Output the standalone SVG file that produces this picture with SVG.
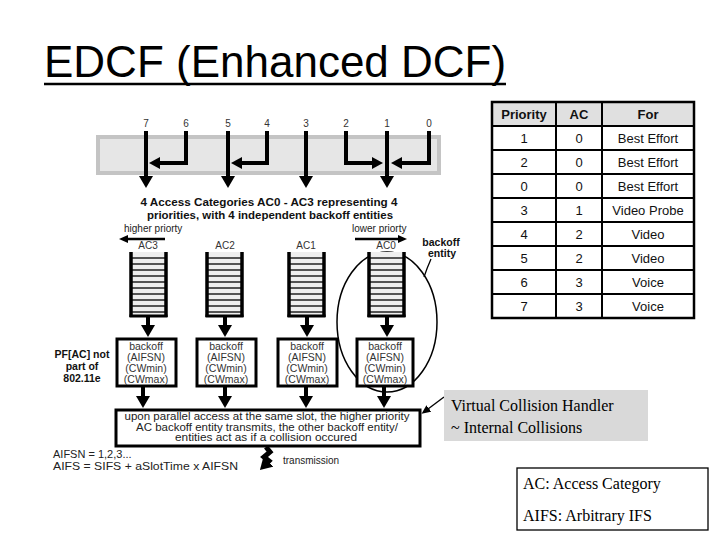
<svg xmlns="http://www.w3.org/2000/svg" xmlns:xlink="http://www.w3.org/1999/xlink" width="720" height="540" viewBox="0 0 720 540">
<style>
  text { font-family: "Liberation Sans", Arial, sans-serif; }
  .title { font-size: 44px; fill: #000; }
  .num { font-size: 10px; fill: #333; text-anchor: middle; }
  .small { font-size: 10px; fill: #222; }
  .note { font-size: 11px; fill: #222; }
  .bold { font-size: 10.5px; font-weight: bold; fill: #111; text-anchor: middle; }
  .bo { font-size: 10.5px; fill: #333; text-anchor: middle; }
  .coll { font-size: 10px; fill: #222; text-anchor: middle; }
  .tbl { font-size: 13px; fill: #111; text-anchor: middle; }
  .th { font-size: 13px; font-weight: bold; fill: #111; text-anchor: middle; }
  .serif { font-family: "Liberation Serif", "Times New Roman", serif; font-size: 16px; fill: #000; }
  .thick { stroke: #000; stroke-width: 4; fill: none; }
  .med { stroke: #000; stroke-width: 2.5; fill: none; }
  .thin { stroke: #000; stroke-width: 1.3; fill: none; }
  .box { fill: #fff; stroke: #000; stroke-width: 3; }
  .tl { stroke: #000; stroke-width: 2; }
</style>
<defs>
  <marker id="big" markerUnits="userSpaceOnUse" markerWidth="14" markerHeight="14" refX="2" refY="7" orient="auto">
    <path d="M0,0 L12,7 L0,14 z" fill="#000"/>
  </marker>
  <marker id="mid" markerUnits="userSpaceOnUse" markerWidth="12" markerHeight="12" refX="2" refY="6" orient="auto">
    <path d="M0,0 L11,6 L0,12 z" fill="#000"/>
  </marker>
  <marker id="sm" markerUnits="userSpaceOnUse" markerWidth="10" markerHeight="8" refX="1" refY="4" orient="auto">
    <path d="M0,0 L9,4 L0,8 z" fill="#000"/>
  </marker>
  <g id="queue">
    <rect x="0" y="0" width="35" height="65" fill="#eeeeee"/>
    <path d="M0,6H35M0,12H35M0,18H35M0,24H35M0,30H35M0,36H35M0,42H35M0,48H35M0,54H35M0,60H35" stroke="#222" stroke-width="1.4"/>
    <path d="M0,0V65M35,0V65" stroke="#000" stroke-width="3.5"/>
    <path d="M-1.5,64H36.5" stroke="#000" stroke-width="3"/>
  </g>
</defs>

<g id="title">
  <text class="title" x="44" y="77">EDCF (Enhanced DCF)</text>
  <line x1="44" y1="84" x2="506" y2="84" stroke="#000" stroke-width="2.5"/>
</g>

<g id="priority-bar">
  <rect x="98" y="137" width="341" height="36" fill="#e6e6e6" stroke="#c4c4c4" stroke-width="4"/>
  <text class="num" x="146" y="127">7</text>
  <text class="num" x="186" y="127">6</text>
  <text class="num" x="228" y="127">5</text>
  <text class="num" x="267" y="127">4</text>
  <text class="num" x="306" y="127">3</text>
  <text class="num" x="346" y="127">2</text>
  <text class="num" x="387" y="127">1</text>
  <text class="num" x="429" y="127">0</text>
</g>

<g id="ac-caption">
  <text class="bold" x="269" y="206" textLength="257" lengthAdjust="spacingAndGlyphs">4 Access Categories AC0 - AC3 representing 4</text>
  <text class="bold" x="270" y="219" textLength="246" lengthAdjust="spacingAndGlyphs">priorities, with 4 independent backoff entities</text>
</g>

<g id="priority-labels">
  <text class="small" x="124" y="232">higher priorty</text>
  <text class="small" x="352" y="232">lower priorty</text>
  <text class="bold" x="441" y="246">backoff</text>
  <text class="bold" x="442" y="257">entity</text>
</g>

<g id="backoff-entity-ellipse">
  <ellipse cx="387" cy="322" rx="50" ry="70" fill="none" stroke="#000" stroke-width="1.5"/>
  <path d="M431,259 Q427,268 424,277" class="thin" stroke-width="1.5"/>
</g>

<g id="ac3">
  <text class="num" x="148" y="249">AC3</text>
  <use xlink:href="#queue" x="131" y="252"/>
  <rect class="box" x="117" y="339" width="59" height="47"/>
  <text class="bo" x="146" y="350">backoff</text>
  <text class="bo" x="146" y="361">(AIFSN)</text>
  <text class="bo" x="146" y="372">(CWmin)</text>
  <text class="bo" x="146" y="383">(CWmax)</text>
</g>
<g id="ac2">
  <text class="num" x="225" y="249">AC2</text>
  <use xlink:href="#queue" x="207" y="252"/>
  <rect class="box" x="197" y="339" width="59" height="47"/>
  <text class="bo" x="226" y="350">backoff</text>
  <text class="bo" x="226" y="361">(AIFSN)</text>
  <text class="bo" x="226" y="372">(CWmin)</text>
  <text class="bo" x="226" y="383">(CWmax)</text>
</g>
<g id="ac1">
  <text class="num" x="306" y="249">AC1</text>
  <use xlink:href="#queue" x="289" y="252"/>
  <rect class="box" x="278" y="339" width="59" height="47"/>
  <text class="bo" x="307" y="350">backoff</text>
  <text class="bo" x="307" y="361">(AIFSN)</text>
  <text class="bo" x="307" y="372">(CWmin)</text>
  <text class="bo" x="307" y="383">(CWmax)</text>
</g>
<g id="ac0">
  <text class="num" x="386" y="249">AC0</text>
  <use xlink:href="#queue" x="369" y="252"/>
  <rect class="box" x="357" y="339" width="56" height="47"/>
  <text class="bo" x="385" y="350">backoff</text>
  <text class="bo" x="385" y="361">(AIFSN)</text>
  <text class="bo" x="385" y="372">(CWmin)</text>
  <text class="bo" x="385" y="383">(CWmax)</text>
</g>

<g id="pf-note">
  <text class="bold" x="82" y="358">PF[AC] not</text>
  <text class="bold" x="82" y="370">part of</text>
  <text class="bold" x="82" y="382">802.11e</text>
</g>

<g id="collision-box">
  <rect class="box" x="116" y="410" width="304" height="36"/>
  <text class="coll" x="267" y="420" textLength="285" lengthAdjust="spacingAndGlyphs">upon parallel access at the same slot, the higher priority</text>
  <text class="coll" x="267" y="431" textLength="262" lengthAdjust="spacingAndGlyphs">AC backoff entity transmits, the other backoff entity/</text>
  <text class="coll" x="266" y="441" textLength="182" lengthAdjust="spacingAndGlyphs">entities act as if a collision occured</text>
</g>

<g id="aifs-note">
  <text class="note" x="53" y="458">AIFSN = 1,2,3...</text>
  <text class="note" x="53" y="470" textLength="185" lengthAdjust="spacingAndGlyphs">AIFS   = SIFS + aSlotTime x AIFSN</text>
  <text class="small" x="283" y="464">transmission</text>
</g>

<g id="connectors">
  <line class="thick" x1="146" y1="131" x2="146" y2="178" marker-end="url(#big)"/>
  <line class="thick" x1="228" y1="131" x2="228" y2="178" marker-end="url(#big)"/>
  <line class="thick" x1="306" y1="131" x2="306" y2="178" marker-end="url(#big)"/>
  <line class="thick" x1="387" y1="131" x2="387" y2="178" marker-end="url(#big)"/>
  <polyline class="thick" points="186,131 186,163 158,163" marker-end="url(#mid)"/>
  <polyline class="thick" points="267,131 267,163 240,163" marker-end="url(#mid)"/>
  <polyline class="thick" points="346,131 346,163 374,163" marker-end="url(#mid)"/>
  <polyline class="thick" points="429,131 429,163 400,163" marker-end="url(#mid)"/>
  <line class="med" x1="165" y1="239" x2="127" y2="239" marker-end="url(#sm)"/>
  <line class="med" x1="355" y1="239" x2="399" y2="239" marker-end="url(#sm)"/>
  <line class="thick" x1="148" y1="316" x2="148" y2="327" marker-end="url(#big)"/>
  <line class="thick" x1="225" y1="316" x2="225" y2="327" marker-end="url(#big)"/>
  <line class="thick" x1="307" y1="316" x2="307" y2="327" marker-end="url(#big)"/>
  <line class="thick" x1="387" y1="316" x2="387" y2="327" marker-end="url(#big)"/>
  <line class="thick" x1="143" y1="387" x2="143" y2="398" marker-end="url(#big)"/>
  <line class="thick" x1="225" y1="387" x2="225" y2="398" marker-end="url(#big)"/>
  <line class="thick" x1="306" y1="387" x2="306" y2="398" marker-end="url(#big)"/>
  <line class="thick" x1="384" y1="387" x2="384" y2="398" marker-end="url(#big)"/>
  <path d="M266,447 L270,452 L264,457 L269,461 L267,463" stroke="#000" stroke-width="5" fill="none" marker-end="url(#big)"/>
  <line class="thin" x1="444" y1="397" x2="428" y2="409" marker-end="url(#sm)"/>
</g>

<g id="priority-table">
  <rect x="492" y="102" width="202" height="24" fill="#e0e0e0"/>
  <rect x="492" y="102" width="202" height="216" fill="none" stroke="#000" stroke-width="2.5"/>
  <path class="tl" d="M556,102V318M602,102V318M492,126H694M492,150H694M492,174H694M492,198H694M492,222H694M492,246H694M492,270H694M492,294H694"/>
  <text class="th" x="524" y="119">Priority</text>
  <text class="th" x="579" y="119">AC</text>
  <text class="th" x="648" y="119">For</text>
  <text class="tbl" x="524" y="143">1</text><text class="tbl" x="579" y="143">0</text><text class="tbl" x="648" y="143">Best Effort</text>
  <text class="tbl" x="524" y="167">2</text><text class="tbl" x="579" y="167">0</text><text class="tbl" x="648" y="167">Best Effort</text>
  <text class="tbl" x="524" y="191">0</text><text class="tbl" x="579" y="191">0</text><text class="tbl" x="648" y="191">Best Effort</text>
  <text class="tbl" x="524" y="215">3</text><text class="tbl" x="579" y="215">1</text><text class="tbl" x="648" y="215">Video Probe</text>
  <text class="tbl" x="524" y="239">4</text><text class="tbl" x="579" y="239">2</text><text class="tbl" x="648" y="239">Video</text>
  <text class="tbl" x="524" y="263">5</text><text class="tbl" x="579" y="263">2</text><text class="tbl" x="648" y="263">Video</text>
  <text class="tbl" x="524" y="287">6</text><text class="tbl" x="579" y="287">3</text><text class="tbl" x="648" y="287">Voice</text>
  <text class="tbl" x="524" y="311">7</text><text class="tbl" x="579" y="311">3</text><text class="tbl" x="648" y="311">Voice</text>
</g>

<g id="virtual-collision-handler">
  <rect x="444" y="390" width="204" height="51" fill="#d9d9d9"/>
  <text class="serif" x="451" y="411">Virtual Collision Handler</text>
  <text class="serif" x="451" y="433">~ Internal Collisions</text>
</g>

<g id="legend">
  <rect x="517" y="468" width="191" height="62" fill="#fff" stroke="#000" stroke-width="1.3"/>
  <text class="serif" x="523" y="489">AC: Access Category</text>
  <text class="serif" x="523" y="521">AIFS: Arbitrary IFS</text>
</g>
</svg>
